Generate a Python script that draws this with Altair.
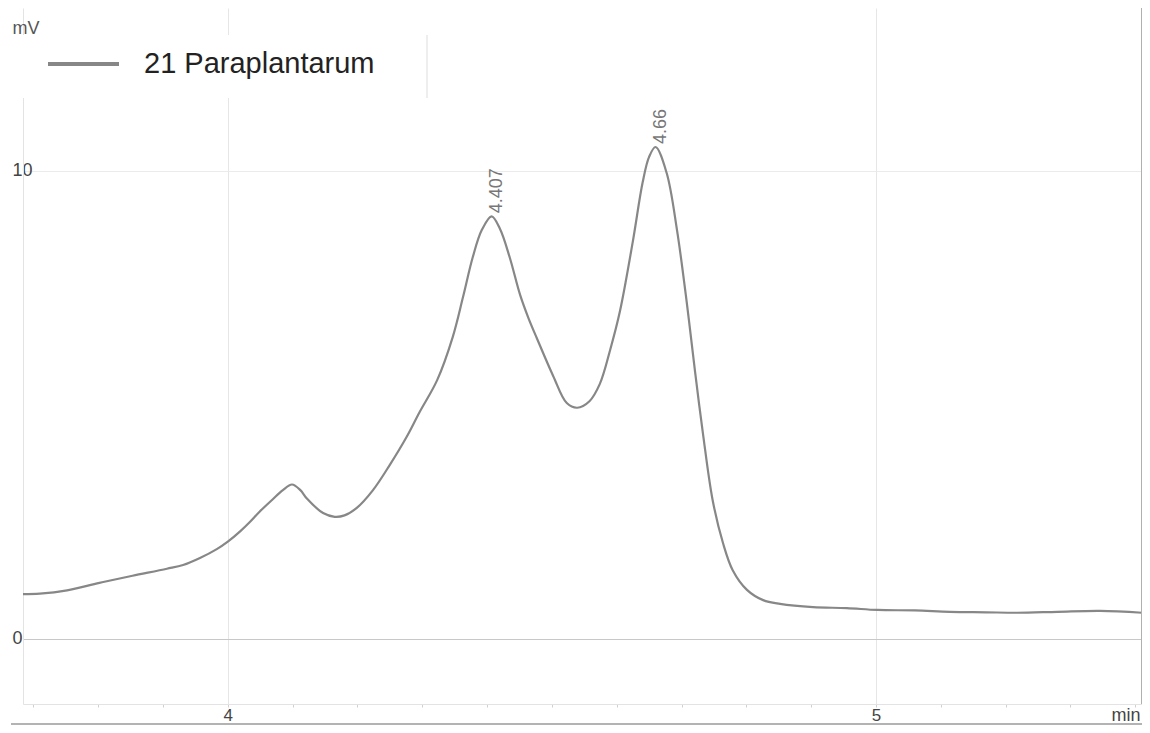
import altair as alt
import pandas as pd

# Chromatogram trace (time in min, signal in mV)
times = [3.684, 3.710, 3.752, 3.802, 3.853, 3.906, 3.931, 3.957, 3.983, 4.000,
         4.019, 4.034, 4.049, 4.069, 4.085, 4.099, 4.112, 4.122, 4.147, 4.165,
         4.180, 4.199, 4.224, 4.250, 4.276, 4.296, 4.323, 4.347, 4.363, 4.378,
         4.392, 4.407, 4.420, 4.435, 4.451, 4.464, 4.477, 4.502, 4.523, 4.539,
         4.558, 4.574, 4.590, 4.605, 4.625, 4.640, 4.650, 4.660, 4.677, 4.693,
         4.708, 4.721, 4.733, 4.748, 4.764, 4.779, 4.801, 4.826, 4.852, 4.903,
         4.955, 5.002, 5.060, 5.114, 5.170, 5.218, 5.280, 5.346, 5.411]
signal = [0.96, 0.97, 1.04, 1.20, 1.35, 1.50, 1.58, 1.73, 1.92, 2.08,
          2.30, 2.50, 2.72, 2.98, 3.18, 3.30, 3.18, 3.00, 2.69, 2.61,
          2.64, 2.80, 3.18, 3.72, 4.32, 4.85, 5.53, 6.45, 7.31, 8.16,
          8.74, 9.03, 8.76, 8.15, 7.35, 6.85, 6.42, 5.62, 5.04, 4.94,
          5.08, 5.45, 6.18, 7.00, 8.50, 9.75, 10.30, 10.51, 9.96, 8.74,
          7.20, 5.70, 4.40, 2.97, 2.05, 1.47, 1.05, 0.83, 0.75, 0.68,
          0.66, 0.62, 0.61, 0.58, 0.57, 0.56, 0.58, 0.60, 0.56]
series_name = "21 Paraplantarum"

peak_times = [4.407, 4.66]
peak_heights = [9.03, 10.51]
peak_labels = ["4.407", "4.66"]

x_ticks = [3.7, 3.8, 3.9, 4.0, 4.1, 4.2, 4.3, 4.4, 4.5, 4.6, 4.7, 4.8, 4.9,
           5.0, 5.1, 5.2, 5.3, 5.4]
y_ticks = [0, 10]
x_domain = [3.684, 5.4105]
y_domain = [-1.389, 13.48]

df = pd.DataFrame({"time": times, "mv": signal, "series": series_name})
peaks = pd.DataFrame({"time": peak_times, "mv": peak_heights, "label": peak_labels})

FONT = "Liberation Sans"
W, H = 1119, 696

x_enc = alt.X(
    "time:Q",
    scale=alt.Scale(domain=x_domain, nice=False, zero=False),
    axis=alt.Axis(
        values=x_ticks,
        labelExpr="datum.value % 1 == 0 ? format(datum.value, 'd') : ''",
        labelOverlap=False,
        labelFlush=False,
        grid=True,
        gridColor=alt.condition("datum.value % 1 == 0", alt.value("#e6e6e6"), alt.value("transparent")),
        domainColor="#e3e3e3",
        tickColor="#d0d0d0",
        tickSize=3,
        labelFontSize=17,
        labelFont=FONT,
        labelColor="#444444",
        labelPadding=0,
        title="min",
        titleFont=FONT,
        titleFontSize=18,
        titleFontWeight="normal",
        titleColor="#444444",
        titleX=W - 2,
        titleY=16,
        titleAlign="right",
        titleBaseline="alphabetic",
        titleAnchor="end",
    ),
)
y_enc = alt.Y(
    "mv:Q",
    scale=alt.Scale(domain=y_domain, nice=False, zero=False),
    axis=alt.Axis(
        values=y_ticks,
        grid=True,
        gridColor=alt.condition("datum.value == 0", alt.value("#c8c8c8"), alt.value("#ebebeb")),
        domainColor="#e3e3e3",
        tickSize=0,
        labelAlign="left",
        labelBaseline="middle",
        labelPadding=11,
        labelFontSize=18,
        labelFont=FONT,
        labelColor="#444444",
        title="mV",
        titleFont=FONT,
        titleFontSize=18,
        titleFontWeight="normal",
        titleColor="#555555",
        titleAngle=0,
        titleX=-11,
        titleY=25,
        titleAlign="left",
        titleBaseline="alphabetic",
    ),
)

legend_bg = alt.Chart(df).mark_rect(fill="white").encode(
    x=alt.value(0), x2=alt.value(404), y=alt.value(27), y2=alt.value(90)
).transform_filter("datum.time == 3.684")
legend_edge = alt.Chart(df).mark_rule(color="#dddddd", strokeWidth=1).encode(
    x=alt.value(404), y=alt.value(27), y2=alt.value(90)
).transform_filter("datum.time == 3.684")

line = alt.Chart(df).mark_line(strokeWidth=2.2, interpolate="catmull-rom").encode(
    x=x_enc,
    y=y_enc,
    color=alt.Color(
        "series:N",
        scale=alt.Scale(domain=[series_name], range=["#878787"]),
        legend=alt.Legend(
            orient="none",
            legendX=23,
            legendY=18.5,
            title=None,
            symbolType="stroke",
            symbolStrokeWidth=4,
            symbolSize=5041,
            labelFontSize=29,
            labelFont=FONT,
            labelColor="#222222",
            labelOffset=23,
            padding=0,
            labelLimit=600,
        ),
    ),
)

labels = alt.Chart(peaks).mark_text(
    angle=270, align="left", baseline="middle", dx=3, dy=5,
    font=FONT, fontSize=18, color="#777777",
).encode(x="time:Q", y="mv:Q", text="label:N")

frame_bottom = alt.Chart(df).mark_rule(color="#9a9a9a", strokeWidth=1.5).encode(
    x=alt.value(-12), x2=alt.value(W), y=alt.value(H + 20)
).transform_filter("datum.time == 3.684")
frame_right = alt.Chart(df).mark_rule(color="#b0b0b0", strokeWidth=1).encode(
    x=alt.value(W - 0.5), y=alt.value(0), y2=alt.value(H)
).transform_filter("datum.time == 3.684")

chart = alt.layer(legend_bg, legend_edge, line, labels, frame_bottom, frame_right).properties(
    width=W,
    height=H,
    autosize=alt.AutoSizeParams(type="none"),
    padding={"left": 15, "top": 0, "right": 0, "bottom": 21},
    background="white",
).configure_view(stroke=None)

chart.save("out.html", embed_options={"renderer": "svg", "actions": False})
